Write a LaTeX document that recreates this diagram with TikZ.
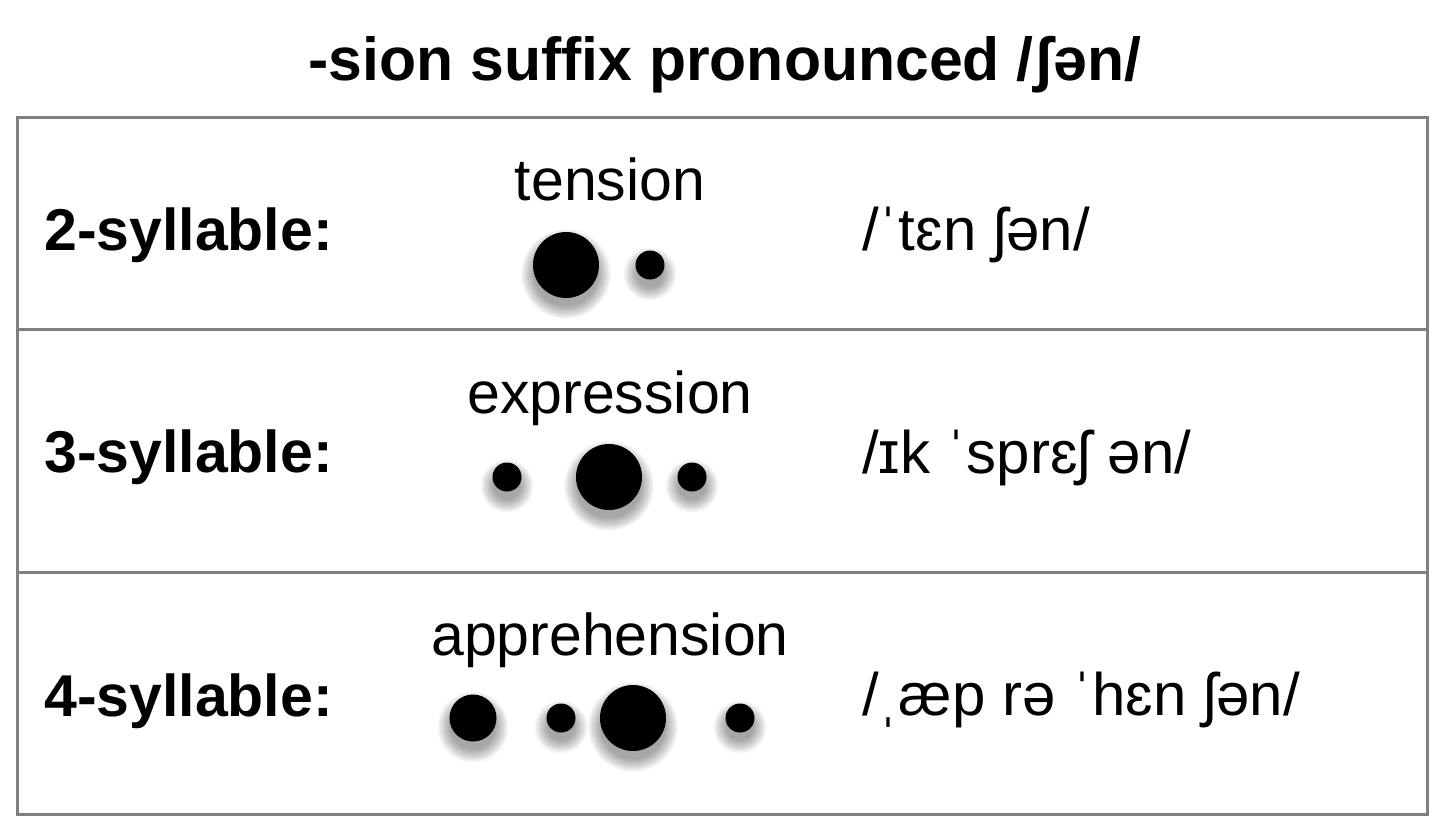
\documentclass[tikz,border=0pt]{standalone}
\usepackage{fontspec}
\setmainfont{Liberation Sans}
\tikzset{
  grid/.style={draw=black!50, line width=3pt},
  lbl/.style={anchor=base west, inner sep=0pt, font=\fontsize{59}{68}\selectfont\bfseries},
  word/.style={anchor=base, inner sep=0pt, font=\fontsize{59}{70}\selectfont},
  ipa/.style={anchor=base west, inner sep=0pt, font=\fontsize{60}{70}\selectfont},
  dot/.style={circle, fill=black, inner sep=0pt, minimum size=#1},
  shade layer/.style={fill=black, opacity=0.026},
}
\newcommand\sdot[4]{% name, x, y, diameter
  \foreach \k in {0,...,13} {\fill[shade layer] (#2,#3+9) circle[radius={(#4/2+12-\k)*1pt}];}
  \node[dot=#4pt] (#1) at (#2,#3) {};}
\begin{document}
\begin{tikzpicture}[x=1pt,y=-1pt]
\useasboundingbox (0,0) rectangle (1442,830);
\fill[white] (0,0) rectangle (1442,830);
% title
\node[anchor=base, inner sep=0pt, font=\fontsize{60.7}{70}\selectfont\bfseries] (title) at (725,80) {-sion suffix pronounced /ʃən/};
% table
\draw[grid] (17,117) rectangle (1427,814);
\draw[grid] (17,329) -- (1427,329);
\draw[grid] (17,572) -- (1427,572);
% row 1
\node[lbl] (l1) at (44,250) {2-syllable:};
\node[word] (w1) at (610,200) {tension};
\sdot{d11}{566}{265}{66}
\sdot{d12}{650}{265}{29}
\node[ipa] (p1) at (862,250) {/ˈtɛn ʃən/};
% row 2
\node[lbl] (l2) at (44,472) {3-syllable:};
\node[word] (w2) at (610,413) {expression};
\sdot{d21}{507}{477}{29}
\sdot{d22}{609}{477}{66}
\sdot{d23}{692}{477}{29}
\node[ipa] (p2) at (862,473) {/ɪk ˈsprɛʃ ən/};
% row 3
\node[lbl] (l3) at (44,716) {4-syllable:};
\node[word] (w3) at (610,655) {apprehension};
\sdot{d31}{473}{718}{47}
\sdot{d32}{561}{718}{29}
\sdot{d33}{633}{718}{66}
\sdot{d34}{740}{718}{29}
\node[ipa] (p3) at (862,715) {/ˌæp rə ˈhɛn ʃən/};
\end{tikzpicture}
\end{document}
